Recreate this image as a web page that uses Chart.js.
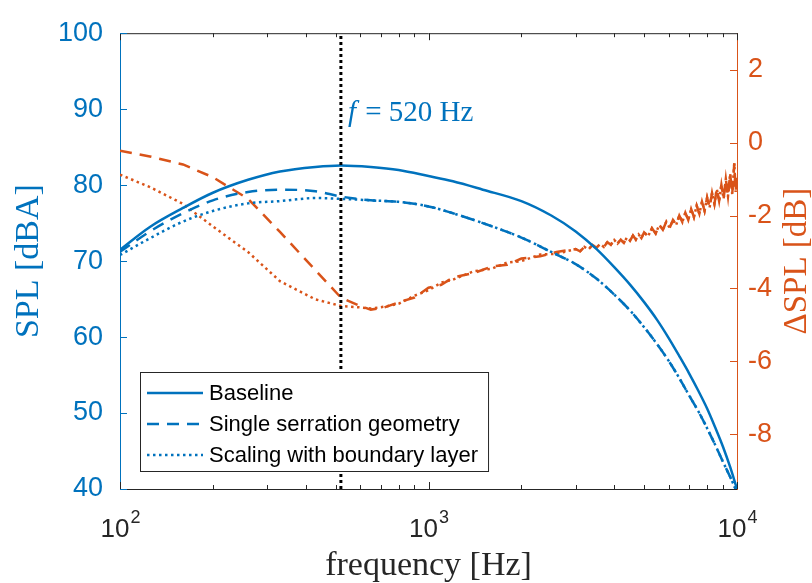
<!DOCTYPE html>
<html>
<head>
<meta charset="utf-8">
<script src="https://cdn.jsdelivr.net/npm/chart.js@4.4.0/dist/chart.umd.min.js"></script>
<style>
html, body { margin: 0; padding: 0; background: #fff; }
</style>
</head>
<body>
<canvas id="spl" width="812" height="583"></canvas>
<script>
// SPL spectra (left axis, dBA)
var blueFreq = [100, 125, 160, 200, 260, 330, 430, 520, 650, 800, 1000, 1200, 1500, 2000, 2500, 3000, 3500, 4000, 4500, 5000, 5500, 6000, 6500, 7000, 7500, 8000, 8500, 9000, 9500, 10000];
var baseline = [71.5, 74.5, 77.0, 79.0, 80.7, 81.8, 82.4, 82.6, 82.4, 82.0, 81.2, 80.5, 79.4, 77.9, 76.0, 73.9, 71.6, 69.2, 66.9, 64.6, 62.3, 59.9, 57.5, 55.2, 52.9, 50.6, 48.1, 45.6, 42.9, 40.0];
var singleSerration = [71.2, 73.9, 76.3, 78.0, 79.1, 79.4, 79.2, 78.5, 78.0, 77.8, 77.2, 76.3, 75.0, 73.1, 71.2, 69.6, 67.7, 65.6, 63.5, 61.3, 59.1, 56.9, 54.6, 52.3, 50.2, 48.0, 45.8, 43.6, 41.6, 39.6];
var boundaryScaling = [70.8, 73.0, 75.2, 76.6, 77.6, 77.9, 78.3, 78.2, 78.0, 77.8, 77.2, 76.3, 75.0, 73.1, 71.2, 69.6, 67.7, 65.6, 63.5, 61.3, 59.1, 56.9, 54.6, 52.3, 50.2, 48.0, 45.8, 43.6, 41.6, 39.6];

// delta SPL (right axis, dB)
var deltaFreq = [100, 125, 160, 200, 260, 330, 430, 520, 600, 650, 720, 800, 900, 1000, 1100, 1200, 1400, 1600, 1800, 2000, 2300, 2600];
var deltaSerration = [-0.22, -0.38, -0.60, -0.95, -1.54, -2.45, -3.50, -4.25, -4.48, -4.58, -4.52, -4.38, -4.25, -3.98, -3.90, -3.70, -3.58, -3.40, -3.35, -3.18, -3.12, -3.00];
var deltaScaling = [-0.88, -1.22, -1.68, -2.30, -3.00, -3.80, -4.30, -4.48, -4.52, -4.55, -4.50, -4.42, -4.20, -4.05, -3.84, -3.76, -3.53, -3.46, -3.29, -3.25, -3.07, -3.05];
// above 3 kHz both configurations collapse onto one noisy curve
var tailFreq = [3000, 3100, 3200, 3300, 3400, 3500, 3600, 3700, 3800, 3900, 4000, 4100, 4200, 4300, 4400, 4500, 4600, 4700, 4800, 4900, 5000,
    5150, 5300, 5450, 5600, 5750, 5900, 6050, 6200, 6350, 6500, 6650, 6800, 6950, 7100, 7250, 7400, 7550, 7700, 7850, 8000,
    8150, 8300, 8450, 8600, 8750, 8900, 9050, 9200, 9350, 9500, 9650, 9800, 9900, 10000];
var deltaTail = [-2.92, -2.98, -2.86, -2.93, -2.81, -2.89, -2.78, -2.86, -2.73, -2.80, -2.67, -2.77, -2.66, -2.75, -2.60, -2.69, -2.55, -2.66, -2.52, -2.62, -2.46,
    -2.57, -2.35, -2.49, -2.26, -2.39, -2.17, -2.34, -2.12, -2.26, -2.00, -2.18, -1.92, -2.12, -1.82, -2.04, -1.73, -1.95, -1.62, -1.87, -1.51,
    -1.78, -1.38, -1.68, -1.27, -1.60, -1.16, -1.54, -1.00, -1.47, -0.85, -1.41, -0.57, -1.35, -0.93];

var markFreq = 520;
var freqTicks = [100, 200, 300, 400, 500, 600, 700, 800, 900, 1000, 2000, 3000, 4000, 5000, 6000, 7000, 8000, 9000, 10000];
var majorTicks = [100, 1000, 10000];
var splTicks = [40, 50, 60, 70, 80, 90, 100];
var deltaTicks = [-8, -6, -4, -2, 0, 2];

var BLUE = '#0072BD';
var ORANGE = '#D95319';
var AXIS = '#262626';

function pts(xs, ys) {
    return xs.map(function (x, i) { return { x: x, y: ys[i] }; });
}

// inward ticks, top frame, x tick labels with exponents, right title
var axesDecor = {
    id: 'axesDecor',
    afterDraw: function (chart) {
        var ctx = chart.ctx, a = chart.chartArea;
        var xs = chart.scales.x, ys = chart.scales.y, y2 = chart.scales.y2;
        ctx.save();
        ctx.lineWidth = 1;
        ctx.strokeStyle = AXIS;
        ctx.beginPath();
        ctx.moveTo(a.left, a.top + 0.5);
        ctx.lineTo(a.right, a.top + 0.5);
        freqTicks.forEach(function (v) {
            var px = Math.round(xs.getPixelForValue(v)) + 0.5;
            var len = majorTicks.indexOf(v) >= 0 ? 7 : 4;
            ctx.moveTo(px, a.bottom);
            ctx.lineTo(px, a.bottom - len);
            ctx.moveTo(px, a.top);
            ctx.lineTo(px, a.top + len);
        });
        ctx.stroke();

        ctx.strokeStyle = BLUE;
        ctx.beginPath();
        splTicks.forEach(function (v) {
            var py = Math.round(ys.getPixelForValue(v)) + 0.5;
            ctx.moveTo(a.left, py);
            ctx.lineTo(a.left + 7, py);
        });
        ctx.stroke();

        ctx.strokeStyle = ORANGE;
        ctx.beginPath();
        deltaTicks.forEach(function (v) {
            var py = Math.round(y2.getPixelForValue(v)) + 0.5;
            ctx.moveTo(a.right, py);
            ctx.lineTo(a.right - 7, py);
        });
        ctx.stroke();

        // x tick labels: 10^n
        ctx.fillStyle = AXIS;
        ctx.textBaseline = 'alphabetic';
        majorTicks.forEach(function (v) {
            var px = xs.getPixelForValue(v);
            var exp = String(Math.round(Math.log10(v)));
            ctx.font = '26px "Liberation Sans"';
            var wb = ctx.measureText('10').width;
            ctx.font = '18px "Liberation Sans"';
            var we = ctx.measureText(exp).width;
            var x0 = px - (wb + we) / 2;
            ctx.font = '26px "Liberation Sans"';
            ctx.textAlign = 'left';
            ctx.fillText('10', x0, a.bottom + 48);
            ctx.font = '18px "Liberation Sans"';
            ctx.fillText(exp, x0 + wb + 1, a.bottom + 34);
        });

        // right axis title, reading bottom to top
        ctx.save();
        ctx.translate(chart.width - 15, (a.top + a.bottom) / 2);
        ctx.rotate(-Math.PI / 2);
        ctx.font = '33px "Liberation Serif"';
        ctx.fillStyle = ORANGE;
        ctx.textAlign = 'center';
        ctx.textBaseline = 'middle';
        ctx.fillText('\u0394SPL [dB]', 0, 0);
        ctx.restore();
        ctx.restore();
    }
};

// legend box inside plot and the frequency annotation
var legendBox = {
    id: 'legendBox',
    afterDatasetsDraw: function (chart) {
        var ctx = chart.ctx, a = chart.chartArea;
        var items = chart.data.datasets.filter(function (d) { return d.inLegend; });
        ctx.save();
        ctx.font = '22px "Liberation Sans"';
        var tw = 0;
        items.forEach(function (d) { tw = Math.max(tw, ctx.measureText(d.label).width); });
        var bx = a.left + 20, by = a.bottom - 117;
        var bw = 69 + tw + 10, bh = 99;
        ctx.fillStyle = '#fff';
        ctx.fillRect(bx, by, bw, bh);
        ctx.strokeStyle = AXIS;
        ctx.lineWidth = 1;
        ctx.strokeRect(bx + 0.5, by + 0.5, bw, bh);
        items.forEach(function (d, i) {
            var ry = by + 21 + i * 31;
            ctx.strokeStyle = d.borderColor;
            ctx.lineWidth = d.borderWidth;
            ctx.setLineDash(d.borderDash || []);
            ctx.beginPath();
            ctx.moveTo(bx + 7, ry);
            ctx.lineTo(bx + 63, ry);
            ctx.stroke();
            ctx.setLineDash([]);
            ctx.fillStyle = '#000';
            ctx.textAlign = 'left';
            ctx.textBaseline = 'middle';
            ctx.fillText(d.label, bx + 69, ry + 1);
        });

        var px = chart.scales.x.getPixelForValue(markFreq) + 7;
        var py = chart.scales.y.getPixelForValue(89.5);
        ctx.fillStyle = BLUE;
        ctx.textBaseline = 'middle';
        ctx.font = 'italic 29px "Liberation Serif"';
        ctx.fillText('f', px, py);
        var wf = ctx.measureText('f').width;
        ctx.font = '29px "Liberation Serif"';
        ctx.fillText(' = ' + markFreq + ' Hz', px + wf + 2, py);
        ctx.restore();
    }
};

var ctx = document.getElementById('spl').getContext('2d');

var myChart = new Chart(ctx, {
    type: 'line',
    data: {
        datasets: [{
            label: 'marker',
            data: [{ x: markFreq, y: 40 }, { x: markFreq, y: 100 }],
            borderColor: '#000',
            borderWidth: 3,
            borderDash: [3, 3],
            yAxisID: 'y'
        }, {
            label: 'Baseline',
            inLegend: true,
            data: pts(blueFreq, baseline),
            borderColor: BLUE,
            borderWidth: 2.5,
            cubicInterpolationMode: 'monotone',
            yAxisID: 'y'
        }, {
            label: 'Single serration geometry',
            inLegend: true,
            data: pts(blueFreq, singleSerration),
            borderColor: BLUE,
            borderWidth: 2.5,
            borderDash: [12, 8],
            cubicInterpolationMode: 'monotone',
            yAxisID: 'y'
        }, {
            label: 'Scaling with boundary layer',
            inLegend: true,
            data: pts(blueFreq, boundaryScaling),
            borderColor: BLUE,
            borderWidth: 2.5,
            borderDash: [2.5, 3.5],
            cubicInterpolationMode: 'monotone',
            yAxisID: 'y'
        }, {
            label: 'dSPL serration',
            data: pts(deltaFreq, deltaSerration).concat(pts(tailFreq, deltaTail)),
            borderColor: ORANGE,
            borderWidth: 2.5,
            borderDash: [12, 8],
            yAxisID: 'y2'
        }, {
            label: 'dSPL scaling',
            data: pts(deltaFreq, deltaScaling).concat(pts(tailFreq, deltaTail)),
            borderColor: ORANGE,
            borderWidth: 2.5,
            borderDash: [2.5, 3.5],
            yAxisID: 'y2'
        }]
    },
    options: {
        responsive: false,
        animation: false,
        devicePixelRatio: 1,
        elements: { point: { radius: 0 }, line: { tension: 0 } },
        layout: { padding: { top: 30, left: 0, right: 0, bottom: 0 } },
        plugins: { legend: { display: false }, tooltip: { enabled: false } },
        scales: {
            x: {
                type: 'logarithmic',
                min: 100,
                max: 10000,
                grid: { display: false, drawTicks: false },
                border: { color: AXIS, width: 1 },
                ticks: { display: false },
                afterBuildTicks: function (s) {
                    s.ticks = freqTicks.map(function (v) { return { value: v }; });
                },
                afterFit: function (s) { s.height = 94; },
                title: {
                    display: true,
                    text: 'frequency [Hz]',
                    color: AXIS,
                    font: { family: 'Liberation Serif', size: 34, lineHeight: 1 },
                    padding: { top: 0, bottom: 0 }
                }
            },
            y: {
                position: 'left',
                min: 40,
                max: 100,
                grid: { display: false, drawTicks: false },
                border: { color: BLUE, width: 1 },
                afterBuildTicks: function (s) {
                    s.ticks = splTicks.map(function (v) { return { value: v }; });
                },
                ticks: {
                    color: BLUE,
                    padding: 17,
                    font: { family: 'Liberation Sans', size: 27 }
                },
                afterFit: function (s) { s.width = 120; },
                title: {
                    display: true,
                    text: 'SPL [dBA]',
                    color: BLUE,
                    font: { family: 'Liberation Serif', size: 34, lineHeight: 1 },
                    padding: { top: 12, bottom: 0 }
                }
            },
            y2: {
                position: 'right',
                min: -9.5,
                max: 3,
                grid: { display: false, drawTicks: false },
                border: { color: ORANGE, width: 1 },
                afterBuildTicks: function (s) {
                    s.ticks = deltaTicks.map(function (v) { return { value: v }; });
                },
                ticks: {
                    color: ORANGE,
                    padding: 11,
                    font: { family: 'Liberation Sans', size: 27 }
                },
                afterFit: function (s) { s.width = 75; }
            }
        }
    },
    plugins: [legendBox, axesDecor]
});
</script>
</body>
</html>
